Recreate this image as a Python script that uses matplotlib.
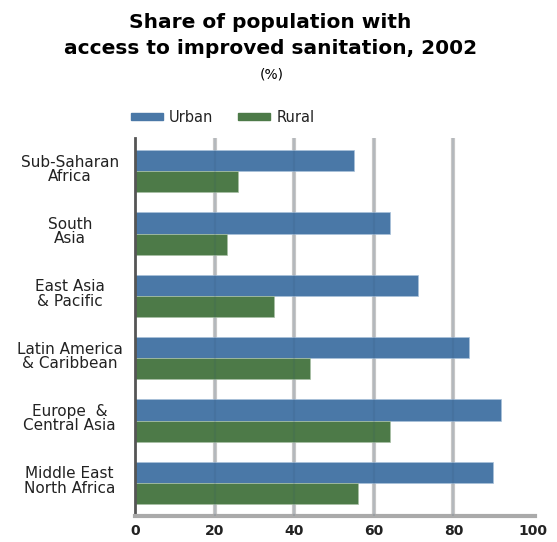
import numpy as np
import matplotlib
matplotlib.use("Agg")
import matplotlib.pyplot as plt
from matplotlib.patches import Rectangle

regions = ["Sub-Saharan\nAfrica", "South\nAsia", "East Asia\n& Pacific",
           "Latin America\n& Caribbean", "Europe  &\nCentral Asia", "Middle East\nNorth Africa"]
urban = [55, 64, 71, 84, 92, 90]
rural = [26, 23, 35, 44, 64, 56]
xticks = [0, 20, 40, 60, 80, 100]

blue = "#4a78a7"
green = "#4d7a48"

fig = plt.figure(figsize=(5.57, 5.42), dpi=100)
ax = fig.add_axes([0.2424, 0.048, 0.718, 0.697])

y = np.arange(len(regions))
h = 0.34
ax.barh(y - h / 2, urban, height=h, color=blue, edgecolor="#a9c1da", linewidth=0.5, zorder=2)
ax.barh(y + h / 2, rural, height=h, color=green, edgecolor="#a8c0a5", linewidth=0.5, zorder=2)

# grid: light behind, faint shade over the bars
for v in [20, 40, 60, 80]:
    ax.axvline(v, color="#c8c8c8", lw=3, zorder=1)
    ax.axvline(v, color="#2a4a6a", lw=1.5, alpha=0.12, zorder=3)

ax.set_xlim(0, 100.5)
ax.set_ylim(len(regions) - 0.47, -0.53)
ax.set_yticks(y - 0.05)
ax.set_yticklabels(regions, fontsize=11, color="#222222", ha="center", linespacing=0.95)
ax.tick_params(axis="y", length=0, pad=47)
ax.set_xticks(xticks)
ax.set_xticklabels([str(t) for t in xticks], fontsize=10, fontweight="bold", color="#222222")
ax.tick_params(axis="x", length=0, pad=6)

for s in ["top", "right"]:
    ax.spines[s].set_visible(False)
ax.spines["left"].set_color("#555555")
ax.spines["left"].set_linewidth(2)
ax.spines["bottom"].set_color("#aaaaaa")
ax.spines["bottom"].set_linewidth(3)

fig.text(0.485, 1 - 22 / 542, "Share of population with", ha="center", va="center",
         fontsize=14.5, fontweight="heavy")
fig.text(0.485, 1 - 48 / 542, "access to improved sanitation, 2002", ha="center", va="center",
         fontsize=14.5, fontweight="heavy")
fig.text(0.487, 1 - 75 / 542, "(%)", ha="center", va="center", fontsize=10)

# legend
ly = 1 - 117 / 542
fig.patches.append(Rectangle((131 / 557, ly - 3.5 / 542), 32 / 557, 7 / 542,
                             transform=fig.transFigure, color=blue, figure=fig))
fig.text(169 / 557, ly, "Urban", va="center", fontsize=10.5, color="#222222")
fig.patches.append(Rectangle((238 / 557, ly - 3.5 / 542), 32 / 557, 7 / 542,
                             transform=fig.transFigure, color=green, figure=fig))
fig.text(277 / 557, ly, "Rural", va="center", fontsize=10.5, color="#222222")

fig.savefig("out.png", dpi=100)
